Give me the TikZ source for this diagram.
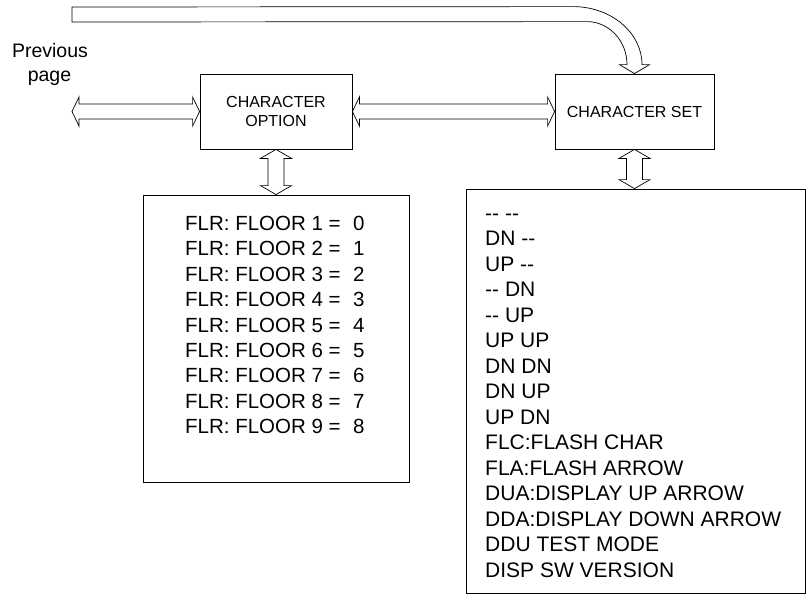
\documentclass[tikz,border=0pt]{standalone}
\usepackage{fontspec}
\setmainfont{Liberation Sans}
\usetikzlibrary{calc}
\begin{document}
\begin{tikzpicture}[x=1pt,y=-1pt,
  box/.style={draw, line width=0.8pt, rectangle, inner sep=0pt},
  fat/.style={draw, line width=0.7pt, fill=white, line join=miter},
  lbl/.style={inner sep=0pt, font=\fontsize{21}{25}\selectfont, anchor=base west},
  flbl/.style={inner sep=0pt, font=\fontsize{20.5}{25}\selectfont, anchor=base west},
  boxfont/.style={font=\fontsize{16}{19}\selectfont}]
\useasboundingbox (0,0) rectangle (811,597);
% boxes
\node[box, boxfont, minimum width=152pt, minimum height=75pt, align=center] (opt) at (276,111.5) {CHARACTER\\OPTION};
\node[box, boxfont, minimum width=159pt, minimum height=75pt] (set) at (634.5,111.5) {CHARACTER SET};
\node[box, minimum width=266pt, minimum height=287pt] (flr) at (276,338.5) {};
\node[box, minimum width=339pt, minimum height=404pt] (lst) at (635.5,391) {};
% previous page label
\node[inner sep=0pt, anchor=base, font=\fontsize{19.5}{24}\selectfont] (prev1) at (50,57) {Previous};
\node[inner sep=0pt, anchor=base, font=\fontsize{19.5}{24}\selectfont] (prev2) at (49.5,81) {page};
% floor list
\foreach \i in {1,...,9} {
  \pgfmathsetmacro\yy{230.5+25.4*(\i-1)}
  \pgfmathtruncatemacro\v{\i-1}
  \node[flbl] (f\i) at (185,\yy) {FLR: FLOOR \i{} =\hspace{12.5pt}\v};
}
% character set list
\foreach \t [count=\i] in {-{}- -{}-, DN -{}-, UP -{}-, -{}- DN, -{}- UP, UP UP, DN DN, DN UP, UP DN, FLC:FLASH CHAR, FLA:FLASH ARROW, DUA:DISPLAY UP ARROW, DDA:DISPLAY DOWN ARROW, DDU TEST MODE, DISP SW VERSION} {
  \pgfmathsetmacro\yy{220+25.5*(\i-1)}
  \node[lbl] (s\i) at (485,\yy) {\t};
}
% horizontal double arrows
\coordinate (pl) at (72,112.5);
\draw[fat] let \p1=(pl), \p2=(opt.west) in
  (\x1,\y2) -- (\x1+7pt,\y2+14.5pt) -- (\x1+7pt,\y2+7.5pt) -- (\x2-7pt,\y2+7.5pt) -- (\x2-7pt,\y2+14.5pt) -- (\x2,\y2)
  -- (\x2-7pt,\y2-14.5pt) -- (\x2-7pt,\y2-7.5pt) -- (\x1+7pt,\y2-7.5pt) -- (\x1+7pt,\y2-14.5pt) -- cycle;
\draw[fat] let \p1=(opt.east), \p2=(set.west) in
  (\x1,\y2) -- (\x1+7pt,\y2+14.5pt) -- (\x1+7pt,\y2+7.5pt) -- (\x2-7pt,\y2+7.5pt) -- (\x2-7pt,\y2+14.5pt) -- (\x2,\y2)
  -- (\x2-7pt,\y2-14.5pt) -- (\x2-7pt,\y2-7.5pt) -- (\x1+7pt,\y2-7.5pt) -- (\x1+7pt,\y2-14.5pt) -- cycle;
% vertical double arrows
\draw[fat] let \p1=(opt.south), \p2=(flr.north) in
  (\x1,\y1) -- (\x1+15.5pt,\y1-9pt) -- (\x1+8pt,\y1-9pt) -- (\x1+8pt,\y2+9pt) -- (\x1+15.5pt,\y2+9pt) -- (\x1,\y2)
  -- (\x1-15.5pt,\y2+9pt) -- (\x1-8pt,\y2+9pt) -- (\x1-8pt,\y1-9pt) -- (\x1-15.5pt,\y1-9pt) -- cycle;
\draw[fat] let \p1=(set.south), \p2=(lst.north) in
  (\x1,\y1) -- (\x1+15.5pt,\y1-9pt) -- (\x1+8pt,\y1-9pt) -- (\x1+8pt,\y2+9pt) -- (\x1+15.5pt,\y2+9pt) -- (\x1,\y2)
  -- (\x1-15.5pt,\y2+9pt) -- (\x1-8pt,\y2+9pt) -- (\x1-8pt,\y1-9pt) -- (\x1-15.5pt,\y1-9pt) -- cycle;
% curved arrow from top into CHARACTER SET
\draw[fat] (72,7) -- ($(set.north)+(-61.5,-67)$)
  .. controls ($(set.north)+(-23.5,-67)$) and ($(set.north)+(7.5,-41)$) .. ($(set.north)+(7.5,-9)$)
  -- ($(set.north)+(15,-9)$) -- (set.north) -- ($(set.north)+(-15,-9)$) -- ($(set.north)+(-7.5,-9)$)
  .. controls ($(set.north)+(-7.5,-32.7)$) and ($(set.north)+(-25.5,-52)$) .. ($(set.north)+(-47.5,-52)$)
  -- (72,22) -- cycle;
\end{tikzpicture}
\end{document}
